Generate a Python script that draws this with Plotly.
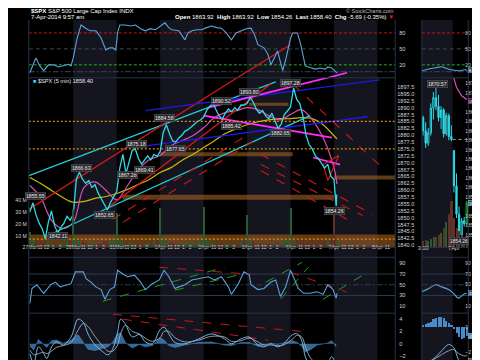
import plotly.graph_objects as go

# ============================ DATA ============================
day_labels = ["27Mar", "28Mar", "31Mar", "1Apr", "2Apr", "3Apr", "4Apr", "7Apr", "8Apr"]
hour_labels = ["11", "12", "1", "2"]
hour_times = [1.5 / 6.5, 2.5 / 6.5, 3.5 / 6.5, 4.5 / 6.5]   # share of the 9:30-16:00 session

# $SPX closes, ~14 samples per session (7Apr: 5-min bars)
close_27mar = [1852.0, 1855.4, 1851.0, 1848.0, 1846.0, 1842.3, 1848.5, 1852.5, 1847.0, 1844.5, 1846.5, 1848.0, 1850.5, 1849.0]
close_28mar = [1851.0, 1864.0, 1866.5, 1864.0, 1862.5, 1863.5, 1861.0, 1862.0, 1859.0, 1857.0, 1854.5, 1852.8, 1855.5, 1857.6]
close_31mar = [1859.5, 1868.0, 1873.0, 1866.0, 1870.5, 1874.5, 1875.0, 1871.5, 1869.5, 1871.0, 1872.5, 1871.0, 1873.0, 1872.3]
close_1apr = [1874.0, 1881.0, 1883.8, 1880.5, 1878.0, 1877.5, 1879.0, 1880.0, 1881.5, 1882.0, 1883.0, 1884.0, 1885.0, 1885.5]
close_2apr = [1886.6, 1889.0, 1890.5, 1891.5, 1889.0, 1887.0, 1885.8, 1888.0, 1889.5, 1888.5, 1890.0, 1889.0, 1891.0, 1890.9]
close_3apr = [1891.5, 1893.8, 1892.0, 1889.5, 1888.0, 1889.0, 1887.0, 1886.0, 1888.0, 1885.0, 1882.5, 1884.0, 1887.5, 1888.8]
close_4apr = [1890.3, 1897.2, 1893.0, 1891.5, 1887.0, 1880.0, 1876.5, 1875.0, 1872.5, 1871.5, 1869.5, 1868.0, 1869.5, 1865.1]
close_7apr = [1863.9, 1861.0, 1857.5, 1855.0, 1854.3, 1858.4]

# volume (millions)
vol_27mar = [14, 8, 6, 5, 6, 7, 6, 5, 4, 4, 5, 5, 6, 11]
vol_28mar = [33, 9, 7, 6, 5, 5, 4, 4, 4, 5, 6, 6, 7, 10]
vol_31mar = [30, 8, 6, 5, 5, 4, 4, 4, 4, 4, 5, 5, 6, 9]
vol_1apr = [34, 9, 6, 5, 5, 4, 4, 4, 4, 4, 5, 5, 6, 9]
vol_2apr = [35, 8, 6, 5, 5, 4, 4, 4, 4, 4, 5, 5, 6, 9]
vol_3apr = [28, 8, 6, 5, 5, 4, 4, 4, 4, 4, 5, 5, 6, 9]
vol_4apr = [34, 10, 8, 7, 7, 6, 6, 6, 6, 6, 7, 7, 8, 12]
vol_7apr = [30, 12, 10, 9, 8, 6]

# moving averages, read every quarter session
ma_times = [0, 0.25, 0.5, 0.75, 1, 1.25, 1.5, 1.75, 2, 2.25, 2.5, 2.75, 3, 3.25, 3.5, 3.75,
            4, 4.25, 4.5, 4.75, 5, 5.25, 5.5, 5.75, 6, 6.25, 6.5, 6.75, 7, 7.07]
pink_ma = [1861.7, 1857.4, 1849.0, 1846.1, 1848.3, 1861.0, 1863.0, 1860.0, 1856.5, 1861.7, 1867.5, 1871.1,
           1872.6, 1876.2, 1878.0, 1879.8, 1882.7, 1886.4, 1888.2, 1888.9, 1890.0, 1889.3, 1887.1, 1885.6,
           1887.5, 1889.3, 1885.6, 1879.1, 1868.2, 1862.2]
yellow_ma = [1864.6, 1862.4, 1859.9, 1857.4, 1855.6, 1855.9, 1857.0, 1857.7, 1858.8, 1860.3, 1862.1, 1863.9,
             1866.4, 1868.2, 1870.8, 1873.0, 1875.5, 1878.0, 1880.6, 1882.4, 1883.8, 1884.9, 1885.6, 1886.0,
             1886.0, 1886.4, 1886.0, 1883.8, 1879.8, 1878.7]

# top oscillator
osc_t = [0.00, 0.14, 0.23, 0.32, 0.43, 0.55, 0.66, 0.77, 0.89, 0.95, 1.00, 1.09, 1.18, 1.30, 1.39, 1.52,
         1.64, 1.75, 1.84, 1.91, 1.98, 2.02, 2.07, 2.20, 2.32, 2.43, 2.55, 2.66, 2.77, 2.89, 3.00, 3.11,
         3.20, 3.27, 3.43, 3.50, 3.57, 3.64, 3.73, 3.84, 3.95, 4.07, 4.18, 4.30, 4.41, 4.52, 4.64, 4.75,
         4.86, 4.98, 5.09, 5.18, 5.25, 5.39, 5.48, 5.55, 5.64, 5.70, 5.77, 5.82, 5.89, 5.93, 6.00, 6.05,
         6.16, 6.23, 6.27, 6.34, 6.45, 6.57, 6.68, 6.80, 6.86, 6.95, 7.07]
osc_v = [5, 33, 18, 9, 20, 20, 16, 18, 21, 18, 33, 70, 95, 88, 84, 84,
         71, 48, 52, 52, 48, 80, 95, 95, 93, 95, 88, 84, 88, 86, 92, 99,
         90, 86, 84, 75, 67, 80, 84, 86, 86, 90, 93, 90, 89, 80, 67, 80,
         84, 88, 89, 75, 58, 52, 40, 20, 35, 46, 25, 9, 30, 46, 70, 80,
         80, 60, 46, 18, 15, 12, 14, 12, 16, 14, 5]

# RSI
rsi_t = [0.00, 0.05, 0.16, 0.32, 0.48, 0.59, 0.70, 0.84, 0.95, 1.05, 1.16, 1.23, 1.30, 1.41, 1.52, 1.64,
         1.73, 1.84, 1.95, 2.02, 2.14, 2.25, 2.41, 2.55, 2.66, 2.82, 2.98, 3.09, 3.20, 3.34, 3.43, 3.57,
         3.73, 3.89, 4.11, 4.25, 4.41, 4.57, 4.64, 4.80, 4.93, 5.05, 5.09, 5.25, 5.39, 5.55, 5.66, 5.77,
         5.89, 6.00, 6.07, 6.18, 6.30, 6.45, 6.61, 6.75, 6.86, 6.98, 7.05, 7.07]
rsi_v = [15, 43, 50, 34, 50, 55, 46, 50, 52, 74, 74, 74, 61, 55, 46, 41,
         23, 41, 46, 77, 70, 65, 68, 55, 41, 52, 59, 77, 65, 43, 46, 50,
         59, 61, 65, 59, 65, 46, 32, 52, 74, 68, 50, 41, 43, 55, 59, 28,
         46, 77, 65, 43, 34, 34, 37, 32, 50, 41, 25, 34]

# MACD
macd_t = [0.00, 0.09, 0.20, 0.32, 0.39, 0.50, 0.61, 0.77, 0.95, 1.11, 1.23, 1.34, 1.50, 1.68, 1.80, 1.91,
          2.02, 2.09, 2.20, 2.36, 2.52, 2.66, 2.82, 3.00, 3.09, 3.20, 3.34, 3.57, 3.89, 4.18, 4.48, 4.64,
          4.86, 5.05, 5.25, 5.39, 5.55, 5.70, 5.84, 6.05, 6.16, 6.27, 6.34, 6.45, 6.61, 6.84, 6.95, 7.05]
macd_v = [-1.6, -3.2, -0.5, -1.6, -2.4, -0.5, 0.3, -0.2, 1.1, 4.0, 3.5, 1.6, -0.2, -1.3, -1.8, -0.8,
          1.9, 4.0, 3.2, 1.1, 1.5, 0.3, 0.0, 2.3, 2.7, 1.6, 0.2, 0.0, 0.8, 1.6, 0.8, 0.0,
          0.8, 1.1, -0.2, -0.5, 0.0, -0.5, 0.0, 1.5, 1.6, 0.3, -2.1, -3.4, -3.4, -3.2, -2.1, -3.7]
signal_v = [-1.0, -1.8, -1.6, -1.4, -1.6, -1.2, -0.6, -0.3, 0.2, 2.2, 3.3, 2.8, 1.2, -0.4, -1.2, -1.2,
            -0.2, 1.6, 3.0, 2.0, 1.6, 0.9, 0.4, 1.0, 2.0, 2.0, 1.0, 0.3, 0.6, 1.2, 1.1, 0.4,
            0.5, 0.9, 0.3, -0.2, -0.2, -0.3, -0.2, 0.8, 1.4, 1.0, -0.4, -2.2, -3.2, -3.3, -2.8, -3.0]
hist_v = [-0.4, -1.0, 0.7, -0.2, -0.6, 0.5, 0.6, 0.1, 0.6, 1.5, 0.2, -0.9, -1.1, -0.7, -0.5, 0.3,
          1.6, 1.8, 0.2, -0.7, -0.1, -0.5, -0.3, 1.0, 0.6, -0.3, -0.6, -0.2, 0.2, 0.3, -0.2, -0.3,
          0.2, 0.2, -0.4, -0.2, 0.1, -0.1, 0.1, 0.5, 0.2, -0.5, -1.3, -1.0, -0.2, 0.1, 0.5, -0.5]

# horizontal levels and zones on the price panel
orange_levels = [1885.0, 1875.0, 1842.2]
zone_t0 = [3.00, 2.14, 7.00, 5.05, -0.05]
zone_t1 = [6.05, 7.00, 8.45, 5.95, 8.45]
zone_lo = [1872.3, 1856.5, 1863.9, 1890.7, 1839.2]
zone_hi = [1873.8, 1858.3, 1865.3, 1891.8, 1843.9]

# trendlines: (t0, v0, t1, v1)
cyan_lines = [(-0.02, 1865.3, 5.66, 1899.4), (0.43, 1843.6, 6.45, 1887.1)]
red_lines = [(-0.07, 1852.6, 4.77, 1900.9), (1.80, 1853.7, 5.55, 1898.7)]
red_dash_lines = [(1.91, 1849.4, 4.98, 1879.8), (2.14, 1848.3, 5.20, 1878.4),
                  (6.07, 1898.3, 8.11, 1868.2), (5.32, 1873.0, 7.89, 1851.2),
                  (5.32, 1869.3, 7.66, 1850.8), (5.32, 1867.1, 7.30, 1849.4)]
blue_lines = [(2.66, 1888.9, 8.05, 1900.1), (2.36, 1875.5, 7.77, 1886.7)]
magenta_lines = [(4.11, 1890.0, 7.30, 1902.7), (4.00, 1887.1, 6.95, 1879.1), (6.52, 1871.9, 7.14, 1869.3)]
triangle_t = [6.75, 7.11, 6.86, 6.75]
triangle_p = [1869.3, 1872.6, 1863.5, 1869.3]
osc_red_lines = [(4.77, -4.3, 6.00, 57.6)]          # red trendline running on into the top panel
osc_magenta_lines = [(6.86, -4.3, 7.30, 5.1)]
rsi_green_lines = [(1.68, 19.3, 4.48, 82.6), (3.34, 39.8, 4.86, 69.5), (5.43, 54.7, 6.27, 91.9),
                   (5.77, 23.0, 6.41, 82.6), (6.75, 23.0, 7.66, 67.7)]
rsi_red_lines = [(2.98, 82.6, 5.09, 69.5), (6.00, 73.3, 7.30, 36.0)]
macd_red_lines = [(1.91, 4.81, 6.41, 1.90), (2.14, 4.0, 5.48, 0.6)]
macd_green_lines = [(6.61, -3.45, 7.30, -2.80)]

# price call-outs (text, time, price)
callouts = [("1855.55", 0.14, 1858.0), ("1842.11", 0.64, 1843.2), ("1866.63", 1.18, 1868.2),
            ("1852.65", 1.73, 1850.8), ("1867.28", 2.25, 1865.7), ("1869.41", 2.64, 1867.5),
            ("1875.18", 2.45, 1876.9), ("1884.58", 3.09, 1886.4), ("1877.65", 3.36, 1875.1),
            ("1890.52", 4.41, 1892.5), ("1885.42", 4.64, 1883.5), ("1893.80", 5.05, 1895.8),
            ("1882.65", 5.77, 1880.9), ("1897.28", 6.00, 1899.1), ("1854.26", 7.02, 1852.3)]

# right-hand detail panel: 4Apr 3:00pm .. 7Apr 9:55am, 5-min candles
r_tick_labels = ["3:00", "7Apr"]
r_open = [1867.4, 1866.0, 1864.7, 1865.8, 1868.4, 1869.5, 1868.6, 1867.4, 1868.2, 1865.7, 1867.6, 1865.4,
          1863.92, 1860.2, 1857.2, 1855.0, 1856.5, 1856.2]
r_high = [1867.6, 1866.9, 1866.3, 1868.9, 1870.1, 1870.57, 1869.8, 1868.6, 1868.4, 1867.9, 1867.8, 1866.6,
          1863.92, 1861.5, 1858.0, 1856.8, 1856.9, 1858.6]
r_low = [1865.5, 1864.2, 1864.4, 1865.5, 1867.2, 1868.2, 1867.0, 1866.2, 1865.3, 1865.5, 1865.0, 1864.9,
         1859.5, 1856.8, 1854.26, 1854.6, 1855.9, 1856.0]
r_close = [1866.0, 1864.7, 1865.8, 1868.4, 1869.5, 1868.6, 1867.4, 1868.2, 1865.7, 1867.6, 1865.4, 1865.1,
           1860.2, 1857.2, 1855.0, 1856.5, 1856.2, 1858.40]
r_volume = [3, 3.5, 3, 4, 5, 5, 6, 7, 9, 12, 16, 22, 14, 9, 8, 6, 5, 5]
r_prev_close = 1865.09
r_pink_x = [11.5, 13.0, 15.0, 17.0]
r_pink_v = [1872.0, 1870.6, 1869.7, 1869.3]
r_osc_x = [-0.5, 2.2, 4.9, 7.2, 9.0, 11.0, 13.7, 16.4, 17.2]
r_osc_v = [8.8, 12.0, 14.4, 16.3, 13.5, 10.7, 8.8, 10.7, 9.5]
r_rsi_x = [-0.5, 2.2, 4.9, 7.2, 9.9, 11.8, 13.7, 15.7, 17.0]
r_rsi_v = [37, 43, 50, 46, 41, 34, 25, 32, 34]
r_macd_x = [-0.5, 2.2, 4.9, 7.2, 9.9, 11.8, 13.7, 15.7, 17.0]
r_macd_v = [-3.0, -2.8, -2.4, -1.9, -1.4, -1.6, -2.6, -3.4, -3.9]
r_signal_v = [-3.0, -2.8, -2.5, -2.2, -1.9, -1.8, -2.1, -2.3, -2.3]
r_hist_v = [0.1, 0.2, 0.3, 0.4, 0.6, 0.7, 0.8, 0.8, 0.7, 0.5, 0.3, 0.1, -0.2, -0.5, -0.8, -1.0, -0.9, -0.75]

# ============================ STYLE ============================
W, H = 480, 360
SHADE = "#15151f"
EDGE = "#27334b"
TXT = "#d2d2d2"
CYAN = "#2fd9e6"
UPV = "#2a5a34"
DNV = "#5e3128"
FONT = "Liberation Sans"


def xd(a, b):
    return [a / W, b / W]


def yd(top, bot):
    return [1 - bot / H, 1 - top / H]


def px_x(px):
    return px / W


def px_y(py):
    return 1 - py / H


# ============================ BUILD SERIES ============================
session_closes = [close_27mar, close_28mar, close_31mar, close_1apr, close_2apr, close_3apr, close_4apr]
session_vols = [vol_27mar, vol_28mar, vol_31mar, vol_1apr, vol_2apr, vol_3apr, vol_4apr]
t_price, p_price, v_vol = [], [], []
for d, (cl, vo) in enumerate(zip(session_closes, session_vols)):
    for k, (c, v) in enumerate(zip(cl, vo)):
        t_price.append(d + k / 14)
        p_price.append(c)
        v_vol.append(v)
t_7apr = [7 + k / 78 for k in range(len(close_7apr))]
all_t = t_price + t_7apr
all_p = p_price + close_7apr
vol_colors = [UPV if (i == 0 or p >= p_price[i - 1]) else DNV for i, p in enumerate(p_price)]
prev_list = [p_price[-1]] + close_7apr[:-1]
vol7_colors = [UPV if p >= q else DNV for p, q in zip(close_7apr, prev_list)]

fig = go.Figure()

# volume (behind price)
fig.add_trace(go.Bar(x=t_price, y=v_vol, marker=dict(color=vol_colors, line=dict(width=0)), width=0.03,
                     xaxis="x", yaxis="y2"))
fig.add_trace(go.Bar(x=t_7apr, y=vol_7apr, marker=dict(color=vol7_colors, line=dict(width=0)), width=0.011,
                     xaxis="x", yaxis="y2"))


def add_lines(lines, color, dash, width, yaxis="y", xaxis="x"):
    for (a, b, c, d) in lines:
        fig.add_trace(go.Scatter(x=[a, c], y=[b, d], mode="lines", xaxis=xaxis, yaxis=yaxis,
                                 line=dict(color=color, width=width, dash=dash)))


# moving averages
fig.add_trace(go.Scatter(x=ma_times, y=yellow_ma, mode="lines", line=dict(color="#cdb800", width=1.2, shape="spline"),
                         xaxis="x", yaxis="y"))
fig.add_trace(go.Scatter(x=ma_times, y=pink_ma, mode="lines", line=dict(color="#d84fb8", width=1.2, shape="spline"),
                         xaxis="x", yaxis="y"))

# trendlines
add_lines(cyan_lines, "#22d0d8", "solid", 1.2)
add_lines(red_lines, "#e01818", "solid", 1.2)
add_lines(red_dash_lines, "#d01818", "dash", 1.1)
add_lines(blue_lines, "#1c1ce0", "solid", 1.3)
add_lines(magenta_lines, "#ff30ff", "solid", 1.7)
fig.add_trace(go.Scatter(x=triangle_t, y=triangle_p, mode="lines", line=dict(color="#e01818", width=1.1),
                         xaxis="x", yaxis="y"))

# price
fig.add_trace(go.Scatter(x=all_t, y=all_p, mode="lines", line=dict(color=CYAN, width=1.3),
                         xaxis="x", yaxis="y"))

# top oscillator
add_lines(osc_red_lines, "#e01818", "solid", 1.2, yaxis="y3")
add_lines(osc_magenta_lines, "#ff30ff", "solid", 1.7, yaxis="y3")
fig.add_trace(go.Scatter(x=osc_t, y=osc_v, mode="lines", line=dict(color="#5aa4dc", width=1.1),
                         xaxis="x", yaxis="y3"))
# RSI
add_lines(rsi_green_lines, "#1fa01f", "dash", 1.0, yaxis="y4")
add_lines(rsi_red_lines, "#c01818", "dash", 1.0, yaxis="y4")
fig.add_trace(go.Scatter(x=rsi_t, y=rsi_v, mode="lines", line=dict(color="#5aa4dc", width=1.1),
                         xaxis="x", yaxis="y4"))
# MACD
fig.add_trace(go.Scatter(x=macd_t, y=hist_v, mode="lines", fill="tozeroy", fillcolor="rgba(70,140,200,0.75)",
                         line=dict(color="rgba(70,140,200,0.9)", width=0.6), xaxis="x", yaxis="y5"))
add_lines(macd_red_lines, "#c01818", "dash", 1.0, yaxis="y5")
add_lines(macd_green_lines, "#1fa01f", "dash", 1.0, yaxis="y5")
fig.add_trace(go.Scatter(x=macd_t, y=signal_v, mode="lines", line=dict(color="#a8acb4", width=0.9, shape="spline"),
                         xaxis="x", yaxis="y5"))
fig.add_trace(go.Scatter(x=macd_t, y=macd_v, mode="lines", line=dict(color="#6fb6ea", width=1.0, shape="spline"),
                         xaxis="x", yaxis="y5"))

# ---- right detail panel ----
r_x = list(range(len(r_close)))
r_vcol = [UPV if c >= o else DNV for o, c in zip(r_open, r_close)]
fig.add_trace(go.Bar(x=r_x, y=r_volume, marker=dict(color=r_vcol, line=dict(width=0)), width=0.8,
                     xaxis="x2", yaxis="y7"))
fig.add_trace(go.Scatter(x=[11.5, 17.6], y=[r_prev_close, r_prev_close], mode="lines",
                         line=dict(color="#9a9a9a", width=1, dash="dot"), xaxis="x2", yaxis="y6"))
fig.add_trace(go.Candlestick(x=r_x[:-1], open=r_open[:-1], high=r_high[:-1], low=r_low[:-1], close=r_close[:-1],
                             xaxis="x2", yaxis="y6", whiskerwidth=0,
                             increasing=dict(line=dict(color=CYAN, width=1), fillcolor="#000000"),
                             decreasing=dict(line=dict(color=CYAN, width=1), fillcolor=CYAN)))
fig.add_trace(go.Candlestick(x=r_x[-1:], open=r_open[-1:], high=r_high[-1:], low=r_low[-1:], close=r_close[-1:],
                             xaxis="x2", yaxis="y6", whiskerwidth=0,
                             increasing=dict(line=dict(color="#22b040", width=1), fillcolor="#000000"),
                             decreasing=dict(line=dict(color="#22b040", width=1), fillcolor="#22b040")))
fig.add_trace(go.Scatter(x=r_pink_x, y=r_pink_v, mode="lines", line=dict(color="#d84fb8", width=1.2),
                         xaxis="x2", yaxis="y6"))
fig.add_trace(go.Scatter(x=r_osc_x, y=r_osc_v, mode="lines", line=dict(color="#5aa4dc", width=1.1, shape="spline"),
                         xaxis="x2", yaxis="y8"))
fig.add_trace(go.Scatter(x=r_rsi_x, y=r_rsi_v, mode="lines", line=dict(color="#5aa4dc", width=1.1, shape="spline"),
                         xaxis="x2", yaxis="y9"))
fig.add_trace(go.Bar(x=r_x, y=r_hist_v, marker=dict(color="#4a8cc8", line=dict(width=0)), width=0.85,
                     xaxis="x2", yaxis="y10"))
fig.add_trace(go.Scatter(x=r_macd_x, y=r_signal_v, mode="lines", line=dict(color="#a8acb4", width=0.9, shape="spline"),
                         xaxis="x2", yaxis="y10"))
fig.add_trace(go.Scatter(x=r_macd_x, y=r_macd_v, mode="lines", line=dict(color="#6fb6ea", width=1.0, shape="spline"),
                         xaxis="x2", yaxis="y10"))

# ============================ SHAPES ============================
shapes = []
for d in range(len(day_labels)):
    if d % 2 == 1:
        shapes.append(dict(type="rect", xref="x", yref="paper", x0=d, x1=min(d + 1, 8.409),
                           y0=0, y1=px_y(12), fillcolor=SHADE, line=dict(width=0), layer="below"))
shapes.append(dict(type="rect", xref="x2", yref="paper", x0=-0.5, x1=11.5, y0=0, y1=px_y(12),
                   fillcolor=SHADE, line=dict(width=0), layer="below"))
for a, b, lo, hi in zip(zone_t0, zone_t1, zone_lo, zone_hi):
    shapes.append(dict(type="rect", xref="x", yref="y", x0=a, x1=b, y0=lo, y1=hi,
                       fillcolor="rgba(175,105,35,0.55)", line=dict(width=0), layer="below"))
for lv in orange_levels:
    shapes.append(dict(type="line", xref="x domain", yref="y", x0=0, x1=1, y0=lv, y1=lv,
                       line=dict(color="#e08c10", width=1.3, dash="2px,2px")))
for yref in ("y3", "y8"):
    xr = "x domain" if yref == "y3" else "x2 domain"
    shapes.append(dict(type="line", xref=xr, yref=yref, x0=0, x1=1, y0=80, y1=80,
                       line=dict(color="#c81818", width=1, dash="3px,2px"), layer="below"))
    shapes.append(dict(type="line", xref=xr, yref=yref, x0=0, x1=1, y0=50, y1=50,
                       line=dict(color="#3c4658", width=1, dash="4px,3px"), layer="below"))
    shapes.append(dict(type="line", xref=xr, yref=yref, x0=0, x1=1, y0=20, y1=20,
                       line=dict(color="#1fb01f", width=1, dash="3px,2px"), layer="below"))
    shapes.append(dict(type="line", xref=xr, yref=yref, x0=0, x1=1, y0=7, y1=7,
                       line=dict(color="#3c4658", width=1, dash="6px,2px,2px,2px"), layer="below"))
for yref in ("y4", "y9"):
    xr = "x domain" if yref == "y4" else "x2 domain"
    for lv, ds in ((70, "solid"), (30, "solid"), (50, "6px,2px,2px,2px")):
        shapes.append(dict(type="line", xref=xr, yref=yref, x0=0, x1=1, y0=lv, y1=lv,
                           line=dict(color="#2c3a52", width=1, dash=ds), layer="below"))
for (xa, xb) in ((15, 386), (413, 460)):
    for yy in (70, 240, 250, 306):
        shapes.append(dict(type="line", xref="paper", yref="paper", x0=px_x(xa), x1=px_x(xb),
                           y0=px_y(yy), y1=px_y(yy), line=dict(color=EDGE, width=1)))
    for xx in (xa, xb):
        shapes.append(dict(type="line", xref="paper", yref="paper", x0=px_x(xx), x1=px_x(xx),
                           y0=0, y1=px_y(12), line=dict(color=EDGE, width=1)))

# ============================ ANNOTATIONS ============================
ann = []
for txt, t, p in callouts:
    ann.append(dict(x=t, y=p, xref="x", yref="y", text=txt, showarrow=False,
                    font=dict(size=5.2, color="#e6e6e6", family=FONT),
                    bgcolor="#2b2b30", bordercolor="#5a5a60", borderwidth=0.5, borderpad=0.4))
ann.append(dict(x=5.5, y=1870.9, xref="x2", yref="y6", text="1870.57", showarrow=False,
                font=dict(size=5.2, color="#e6e6e6", family=FONT), bgcolor="#2b2b30",
                bordercolor="#5a5a60", borderwidth=0.5, borderpad=0.4))
ann.append(dict(x=14.0, y=1854.35, xref="x2", yref="y6", text="1854.26", showarrow=False,
                font=dict(size=5.0, color="#e6e6e6", family=FONT), bgcolor="#2b2b30",
                bordercolor="#5a5a60", borderwidth=0.5, borderpad=0.3))


def axis_box(yref, yval, text, bg, border, fc="#ffffff"):
    ann.append(dict(x=px_x(459.5), y=yval, xref="paper", yref=yref, text=text, xanchor="left", showarrow=False,
                    font=dict(size=4.3, color=fc, family=FONT), bgcolor=bg, bordercolor=border,
                    borderwidth=0.5, borderpad=0.2))


axis_box("y6", 1858.40, "1858.40", "#2a5662", "#7fe0ea")
axis_box("y6", 1869.2, "1862.24", "#3a1234", "#e040c0")
axis_box("y8", 9.5, "8.53", "#2a4a66", "#5aa4dc")
axis_box("y9", 34, "33.87", "#2a4a66", "#5aa4dc")
axis_box("y10", -0.75, "-0.746", "#4a8cc8", "#8ac0ea")
axis_box("y10", -2.72, "-2.300", "#555860", "#9a9ea6")

ann.append(dict(x=px_x(17), y=px_y(73), xref="paper", yref="paper", xanchor="left", yanchor="middle",
                showarrow=False, text="<span style='color:#2fd9e6'>■</span> $SPX (5 min) 1858.40",
                font=dict(size=5.6, color="#e6e6e6", family=FONT)))
ann.append(dict(x=px_x(15), y=px_y(3), xref="paper", yref="paper", xanchor="left", yanchor="middle",
                showarrow=False, text="<b>$SPX</b> S&amp;P 500 Large Cap Index INDX",
                font=dict(size=6, color="#ffffff", family=FONT)))
ann.append(dict(x=px_x(15), y=px_y(9), xref="paper", yref="paper", xanchor="left", yanchor="middle",
                showarrow=False, text="7-Apr-2014 9:57 am", font=dict(size=6, color="#ffffff", family=FONT)))
ann.append(dict(x=px_x(387), y=px_y(3), xref="paper", yref="paper", xanchor="right", yanchor="middle",
                showarrow=False, text="© StockCharts.com", font=dict(size=5.5, color="#bdbdbd", family=FONT)))
ann.append(dict(x=px_x(387), y=px_y(9), xref="paper", yref="paper", xanchor="right", yanchor="middle",
                showarrow=False,
                text="<b>Open</b> 1863.92  <b>High</b> 1863.92  <b>Low</b> 1854.26  <b>Last</b> 1858.40  "
                     "<b>Chg</b> -5.69 (-0.35%) <span style='color:#e02020'>▼</span>",
                font=dict(size=6, color="#ffffff", family=FONT)))

# ============================ AXES ============================
tickvals, ticktext = [], []
for d, lab in enumerate(day_labels):
    tickvals.append(d)
    ticktext.append(lab)
    for ht, hl in zip(hour_times, hour_labels):
        if d + ht < 8.3:
            tickvals.append(d + ht)
            ticktext.append(hl)

tf = dict(size=5.6, color=TXT, family=FONT)
tfr = dict(size=5.0, color=TXT, family=FONT)
common_x = dict(showgrid=False, zeroline=False, showline=False, ticks="", ticklen=0, tickangle=0)
common_y = dict(showgrid=False, zeroline=False, showline=False, ticks="", ticklen=0, fixedrange=True)
right_y = dict(ticklabeloverflow="allow", ticklabelstandoff=-4)

price_ticks = [1840 + 2.5 * i for i in range(24)]
r_price_ticks = [v for v in range(1855, 1872) if v not in (1858, 1869)]
layout_axes = dict(
    xaxis=dict(domain=xd(15, 386), range=[-0.0227, 8.409], anchor="y", tickvals=tickvals, ticktext=ticktext,
               tickfont=dict(size=5.1, color=TXT, family=FONT), ticklabelstandoff=-4, **common_x),
    yaxis=dict(domain=yd(70, 240), range=[1839.21, 1900.87], anchor="x", side="right", tickvals=price_ticks,
               ticktext=[f"{v:.1f}" for v in price_ticks], tickfont=tf, ticklabelstandoff=1, **common_y),
    yaxis2=dict(overlaying="y", range=[0.83, 142.5], anchor="x", side="left", tickvals=[10, 20, 30, 40],
                ticktext=["10 M", "20 M", "30 M", "40 M"], tickfont=dict(size=5.2, color=TXT, family=FONT),
                ticklabelstandoff=1, **common_y),
    yaxis3=dict(domain=yd(12, 70), range=[-4.4, 104.4], anchor="x", side="right", tickvals=[20, 50, 80],
                tickfont=tf, ticklabelstandoff=3, **common_y),
    yaxis4=dict(domain=yd(250, 306), range=[-3, 101.2], anchor="x", side="right",
                tickvals=[10, 30, 50, 70, 90], tickfont=tf, ticklabelstandoff=3, **common_y),
    yaxis5=dict(domain=yd(306, 360), range=[-3.78, 4.98], anchor="x", side="right",
                tickvals=[-2, 0, 2, 4], tickfont=tf, ticklabelstandoff=3, **common_y),
    xaxis2=dict(domain=xd(413, 460), range=[-0.5, 17.58], anchor="y6", tickvals=[0, 12],
                ticktext=r_tick_labels, tickfont=tf, ticklabelstandoff=-4, rangeslider=dict(visible=False),
                **common_x),
    yaxis6=dict(domain=yd(70, 240), range=[1853.7, 1871.6], anchor="x2", side="right",
                tickvals=r_price_ticks, tickfont=tfr, **right_y, **common_y),
    yaxis7=dict(overlaying="y6", range=[0, 80], anchor="x2", visible=False),
    yaxis8=dict(domain=yd(12, 70), range=[-4.4, 104.4], anchor="x2", side="right", tickvals=[20, 50, 80],
                tickfont=tfr, **right_y, **common_y),
    yaxis9=dict(domain=yd(250, 306), range=[-3, 101.2], anchor="x2", side="right",
                tickvals=[10, 50, 70, 90], tickfont=tfr, **right_y, **common_y),
    yaxis10=dict(domain=yd(306, 360), range=[-3.2, 1.12], anchor="x2", side="right",
                 tickvals=[-2, 0], tickfont=tfr, **right_y, **common_y),
)

fig.update_layout(width=W, height=H, margin=dict(l=0, r=0, t=0, b=0), paper_bgcolor="#000000",
                  plot_bgcolor="#000000", showlegend=False, shapes=shapes, annotations=ann,
                  bargap=0, font=dict(family=FONT, color=TXT), **layout_axes)

fig.write_html("out.html")
